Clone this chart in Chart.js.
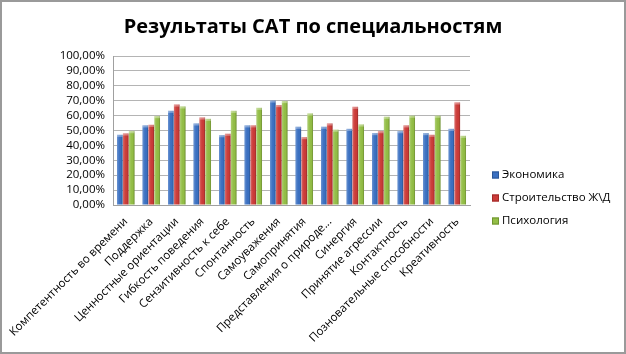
<!DOCTYPE html>
<html>
<head>
<meta charset="utf-8">
<script src="https://cdn.jsdelivr.net/npm/chart.js@4"></script>
<style>
    html, body { margin: 0; padding: 0; background: #fff; }
    #frame {
        width: 626px; height: 354px; box-sizing: border-box;
        border: 2px solid #9a9a9a; background: #fff;
    }
    canvas { display: block; }
</style>
</head>
<body>
<div id="frame"><canvas id="satChart" width="622" height="350"></canvas></div>
<script>
// категории (шкалы САТ)
const categories = [
    'Компетентность во времени', 'Поддержка', 'Ценностные ориентации', 'Гибкость поведения',
    'Сензитивность к себе', 'Спонтанность', 'Самоуважения', 'Самопринятия',
    'Представления о природе...', 'Синергия', 'Принятие агрессии', 'Контактность',
    'Позновательные способности', 'Креативность'
];

// значения, %
const economics    = [47.1, 53.4, 63.2, 54.7, 46.8, 53.4, 70.1, 52.5, 52.5, 51.1, 48.2, 49.5, 48.2, 51.1];
const construction = [48.0, 53.8, 67.4, 58.7, 47.8, 53.4, 67.0, 45.5, 54.7, 65.9, 49.5, 53.4, 47.1, 68.8];
const psychology   = [49.5, 59.6, 66.1, 57.8, 63.2, 65.2, 69.7, 61.4, 50.5, 54.0, 59.2, 59.9, 59.9, 46.4];

const seriesNames = ['Экономика', 'Строительство Ж\\Д', 'Психология'];
const yTicks = [0, 10, 20, 30, 40, 50, 60, 70, 80, 90, 100];
const chartTitle = 'Результаты САТ по специальностям';

const colors = ['#3A70C2', '#CC3B38', '#93BE45'];
const borders = ['#2B5696', '#9E2A28', '#6E9330'];
const FONT = 'Open Sans';

// блики на столбиках (как в Excel 2007)
const glossPlugin = {
    id: 'gloss',
    afterDatasetsDraw(chart) {
        const ctx = chart.ctx;
        chart.data.datasets.forEach((ds, i) => {
            chart.getDatasetMeta(i).data.forEach(bar => {
                const x0 = bar.x - bar.width / 2;
                const x1 = bar.x + bar.width / 2;
                const g = ctx.createLinearGradient(x0, 0, x1, 0);
                g.addColorStop(0, 'rgba(255,255,255,0.25)');
                g.addColorStop(0.35, 'rgba(255,255,255,0.05)');
                g.addColorStop(0.7, 'rgba(0,0,0,0)');
                g.addColorStop(1, 'rgba(0,0,0,0.25)');
                ctx.save();
                ctx.fillStyle = g;
                ctx.fillRect(x0, bar.y, bar.width, bar.base - bar.y);
                ctx.fillStyle = 'rgba(255,255,255,0.35)';
                ctx.fillRect(x0, bar.y, bar.width, 2);
                ctx.restore();
            });
        });
    }
};

// заголовок по центру всего полотна + легенда справа
const titleAndLegend = {
    id: 'titleAndLegend',
    afterDraw(chart) {
        const ctx = chart.ctx;
        ctx.save();
        ctx.fillStyle = '#000';
        ctx.font = 'bold 20px "' + FONT + '"';
        ctx.textAlign = 'center';
        ctx.textBaseline = 'middle';
        ctx.fillText(chartTitle, chart.width / 2, 25);

        const left = chart.chartArea.right + 22;
        const midY = 196;
        ctx.font = '11.5px "' + FONT + '"';
        ctx.textAlign = 'left';
        chart.data.datasets.forEach((ds, i) => {
            const y = midY + (i - 1) * 23;
            ctx.fillStyle = ds.backgroundColor;
            ctx.fillRect(left, y - 3.5, 7, 7);
            ctx.strokeStyle = ds.borderColor;
            ctx.lineWidth = 1;
            ctx.strokeRect(left + 0.5, y - 3, 6, 6);
            ctx.fillStyle = '#000';
            ctx.fillText(ds.label, left + 10, y);
        });
        ctx.restore();
    }
};

const datasets = [economics, construction, psychology].map((values, i) => ({
    label: seriesNames[i],
    data: values,
    backgroundColor: colors[i],
    borderColor: borders[i],
    borderWidth: 0,
    categoryPercentage: 0.7,
    barPercentage: 0.95
}));

new Chart(document.getElementById('satChart'), {
    type: 'bar',
    data: { labels: categories, datasets: datasets },
    options: {
        responsive: false,
        animation: false,
        layout: { padding: { left: 8, right: 154, top: 54, bottom: 0 } },
        plugins: {
            legend: { display: false },
            tooltip: { enabled: false },
            title: { display: false }
        },
        scales: {
            x: {
                grid: { display: false },
                border: { display: true, color: '#a0a0a0' },
                ticks: {
                    color: '#000',
                    font: { family: FONT, size: 11.5 },
                    minRotation: 45,
                    maxRotation: 45,
                    autoSkip: false,
                    padding: 2
                },
                afterFit(scale) { scale.height = 147; }
            },
            y: {
                min: 0,
                max: 100,
                afterBuildTicks(scale) { scale.ticks = yTicks.map(v => ({ value: v })); },
                grid: { color: '#b4b4b4', drawTicks: false },
                border: { display: true, color: '#a0a0a0' },
                ticks: {
                    color: '#000',
                    autoSkip: false,
                    font: { family: FONT, size: 11.5 },
                    padding: 8,
                    callback: v => v.toFixed(2).replace('.', ',') + '%'
                },
                afterFit(scale) { scale.width = 103; }
            }
        }
    },
    plugins: [glossPlugin, titleAndLegend]
});
</script>
</body>
</html>
